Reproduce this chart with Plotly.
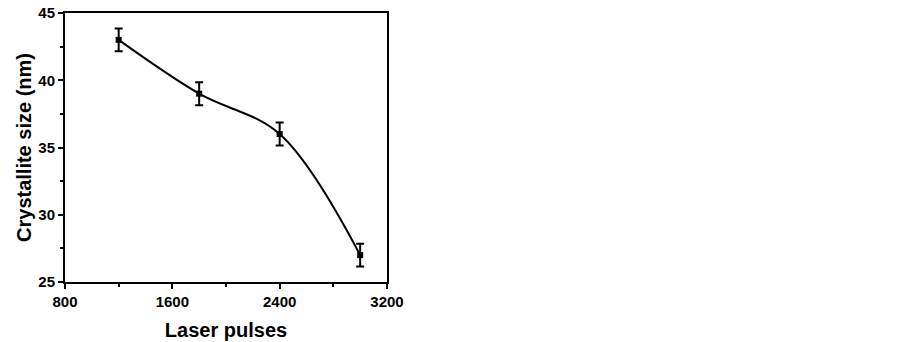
import plotly.graph_objects as go

pulses = [1200, 1800, 2400, 3000]
size_nm = [43.0, 39.0, 36.0, 27.0]
err_nm = [0.85, 0.85, 0.85, 0.85]

fig = go.Figure()
fig.add_trace(go.Scatter(
    x=pulses, y=size_nm, mode="lines", line=dict(shape="spline", smoothing=1.0, color="black", width=2),
    hoverinfo="skip", showlegend=False))
fig.add_trace(go.Scatter(
    x=pulses, y=size_nm, mode="markers",
    marker=dict(symbol="square", size=6, color="black"),
    error_y=dict(type="data", array=err_nm, visible=True, color="black", thickness=2, width=4),
    showlegend=False))

font = "Liberation Sans, Arial, sans-serif"
fig.update_layout(
    width=902, height=342,
    margin=dict(l=65, r=515, t=13, b=60, autoexpand=False),
    paper_bgcolor="white", plot_bgcolor="white",
    font=dict(family=font, color="black"),
)
fig.update_xaxes(
    automargin=False,
    range=[800, 3200], tickvals=[800, 1600, 2400, 3200],
    ticks="outside", ticklen=5, tickwidth=2, tickcolor="black",
    minor=dict(tickvals=[1200, 2000, 2800], ticks="outside", ticklen=3, tickwidth=2, tickcolor="black"),
    showline=True, linewidth=2, linecolor="black", mirror=True, showgrid=False, zeroline=False,
    tickfont=dict(size=15, family=font, weight="bold"),
    title=dict(text="<b>Laser pulses</b>", font=dict(size=20, family=font), standoff=14),
)
fig.update_yaxes(
    automargin=False,
    range=[25, 45], tickvals=[25, 30, 35, 40, 45],
    ticks="outside", ticklen=5, tickwidth=2, tickcolor="black",
    minor=dict(tickvals=[27.5, 32.5, 37.5, 42.5], ticks="outside", ticklen=3, tickwidth=2, tickcolor="black"),
    showline=True, linewidth=2, linecolor="black", mirror=True, showgrid=False, zeroline=False,
    tickfont=dict(size=15, family=font, weight="bold"),
    title=dict(text="<b>Crystallite size (nm)</b>", font=dict(size=20, family=font), standoff=1),
)
fig.write_html("out.html", config={"displayModeBar": False},
               post_script="document.body.style.margin='0';")
